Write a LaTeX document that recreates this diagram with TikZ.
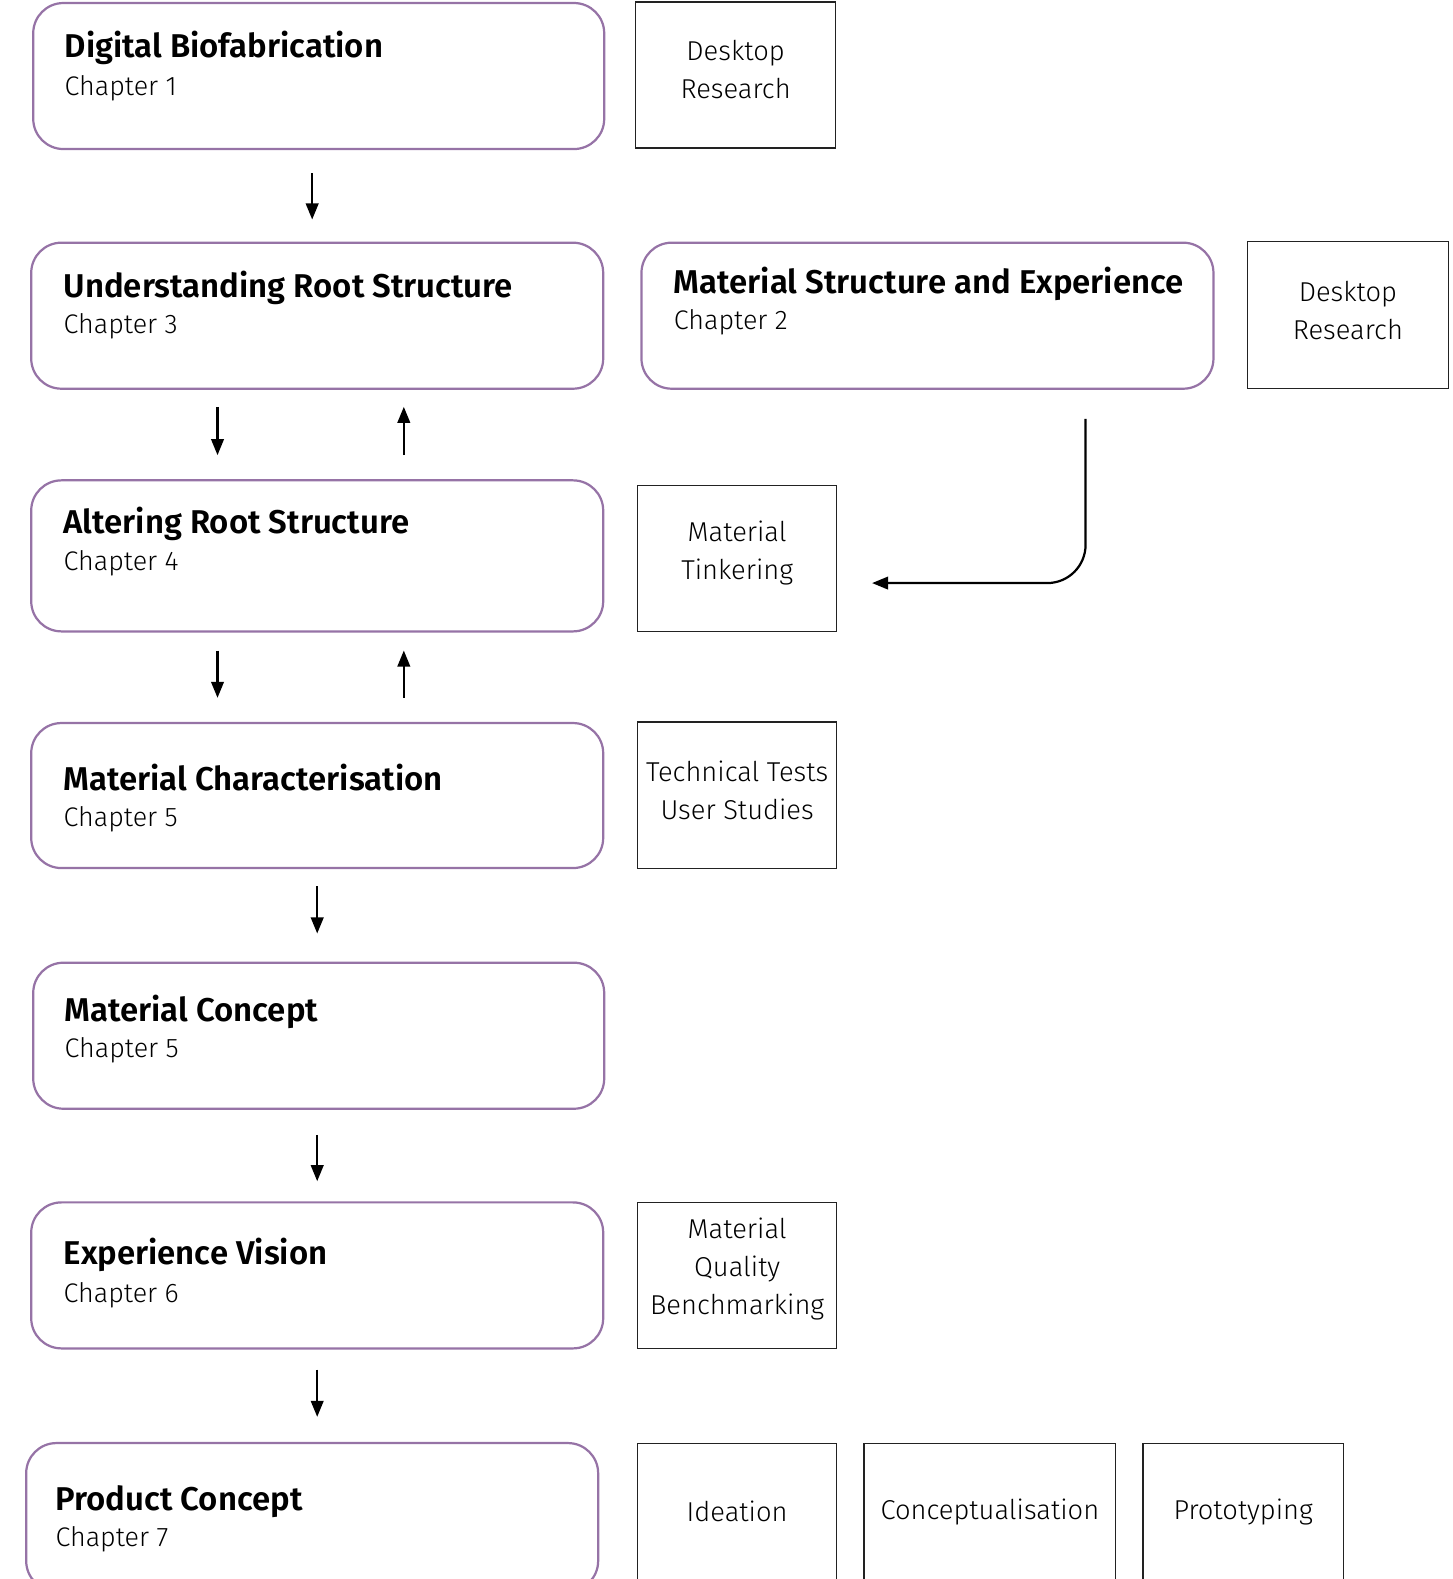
\documentclass[tikz,border=0pt]{standalone}
\usepackage{fontspec}
\setmainfont{Fira Sans Light}[BoldFont={Fira Sans SemiBold}]
\usetikzlibrary{arrows.meta,calc}
\definecolor{purp}{HTML}{9673A6}
\definecolor{boxline}{HTML}{222222}
\tikzset{
  chapbox/.style={draw=purp, line width=2.2pt, rounded corners=30pt, fill=white},
  sqbox/.style={draw=boxline, line width=1.1pt, fill=white},
  titletxt/.style={anchor=base west, inner sep=0pt, font=\fontsize{32.7}{38}\selectfont\bfseries},
  chaptxt/.style={anchor=base west, inner sep=0pt, font=\fontsize{26.7}{32}\selectfont},
  sqtxt/.style={anchor=center, inner sep=0pt, align=center, font=\fontsize{27.1}{37.5}\selectfont},
  arr/.style={draw=black, line width=2.2pt, -{Triangle[length=16pt,width=12.5pt]}}
}
\begin{document}
\begin{tikzpicture}[x=1pt,y=-1pt]
\useasboundingbox (0,0) rectangle (1442,1568);
% rounded chapter boxes
\draw[chapbox] (33,3) rectangle (600,148);
\node[titletxt] (b1t) at (64,57) {Digital Biofabrication};
\node[chaptxt] (b1h) at (64,95) {Chapter 1};

\draw[chapbox] (31,241) rectangle (599,386);
\node[titletxt] (b3t) at (63,295) {Understanding Root Structure};
\node[chaptxt] (b3h) at (63,331) {Chapter 3};

\draw[chapbox] (637,241) rectangle (1205,386);
\node[titletxt] (bmt) at (669,291) {Material Structure and Experience};
\node[chaptxt] (bmh) at (669,327) {Chapter 2};

\draw[chapbox] (31,477) rectangle (599,627);
\node[titletxt] (b4t) at (63,530) {Altering Root Structure};
\node[chaptxt] (b4h) at (63,567) {Chapter 4};

\draw[chapbox] (31,718) rectangle (599,862);
\node[titletxt] (b5t) at (63,785) {Material Characterisation};
\node[chaptxt] (b5h) at (63,821) {Chapter 5};

\draw[chapbox] (33,956) rectangle (600,1101);
\node[titletxt] (bct) at (64,1014) {Material Concept};
\node[chaptxt] (bch) at (64,1050) {Chapter 5};

\draw[chapbox] (31,1194) rectangle (599,1339);
\node[titletxt] (b6t) at (63,1256) {Experience Vision};
\node[chaptxt] (b6h) at (63,1293) {Chapter 6};

\draw[chapbox] (26,1433) rectangle (594,1580);
\node[titletxt] (b7t) at (55,1500) {Product Concept};
\node[chaptxt] (b7h) at (55,1536) {Chapter 7};

% square method boxes
\draw[sqbox] (631,2) rectangle (830,147);
\node[sqtxt] (d1) at (730.5,69) {Desktop\\Research};
\draw[sqbox] (1239,240) rectangle (1438,386);
\node[sqtxt] (d2) at (1338.5,308) {Desktop\\Research};
\draw[sqbox] (633,482) rectangle (831,627);
\node[sqtxt] (mt) at (732,549) {Material\\Tinkering};
\draw[sqbox] (633,717) rectangle (831,862);
\node[sqtxt] (tt) at (732,785) {Technical Tests\\User Studies};
\draw[sqbox] (633,1194) rectangle (831,1339);
\node[sqtxt] (mq) at (732,1260) {Material\\Quality\\Benchmarking};
\draw[sqbox] (633,1433) rectangle (831,1580);
\node[sqtxt] (id) at (732,1501) {Ideation};
\draw[sqbox] (858,1433) rectangle (1108,1580);
\node[sqtxt] (co) at (983,1501) {Conceptualisation};
\draw[sqbox] (1135,1433) rectangle (1334,1580);
\node[sqtxt] (pr) at (1234.5,1501) {Prototyping};

% arrow end points
\coordinate (a1s) at (310,172);  \coordinate (a1e) at (310,218);
\coordinate (a2s) at (216,404);  \coordinate (a2e) at (216,452);
\coordinate (a3s) at (401,452);  \coordinate (a3e) at (401,404);
\coordinate (a4s) at (216,646);  \coordinate (a4e) at (216,693);
\coordinate (a5s) at (401,693);  \coordinate (a5e) at (401,646);
\coordinate (a6s) at (315,880);  \coordinate (a6e) at (315,927);
\coordinate (a7s) at (315,1127); \coordinate (a7e) at (315,1173);
\coordinate (a8s) at (315,1360); \coordinate (a8e) at (315,1407);
\coordinate (cs) at (1078,416);  \coordinate (cm) at (1078,579);
\coordinate (ce) at (866,579);

\draw[arr] (a1s) -- (a1e);
\draw[arr] (a2s) -- (a2e);
\draw[arr] (a3s) -- (a3e);
\draw[arr] (a4s) -- (a4e);
\draw[arr] (a5s) -- (a5e);
\draw[arr] (a6s) -- (a6e);
\draw[arr] (a7s) -- (a7e);
\draw[arr] (a8s) -- (a8e);
\draw[arr, rounded corners=38pt] (cs) -- (cm) -- (ce);
\end{tikzpicture}
\end{document}
